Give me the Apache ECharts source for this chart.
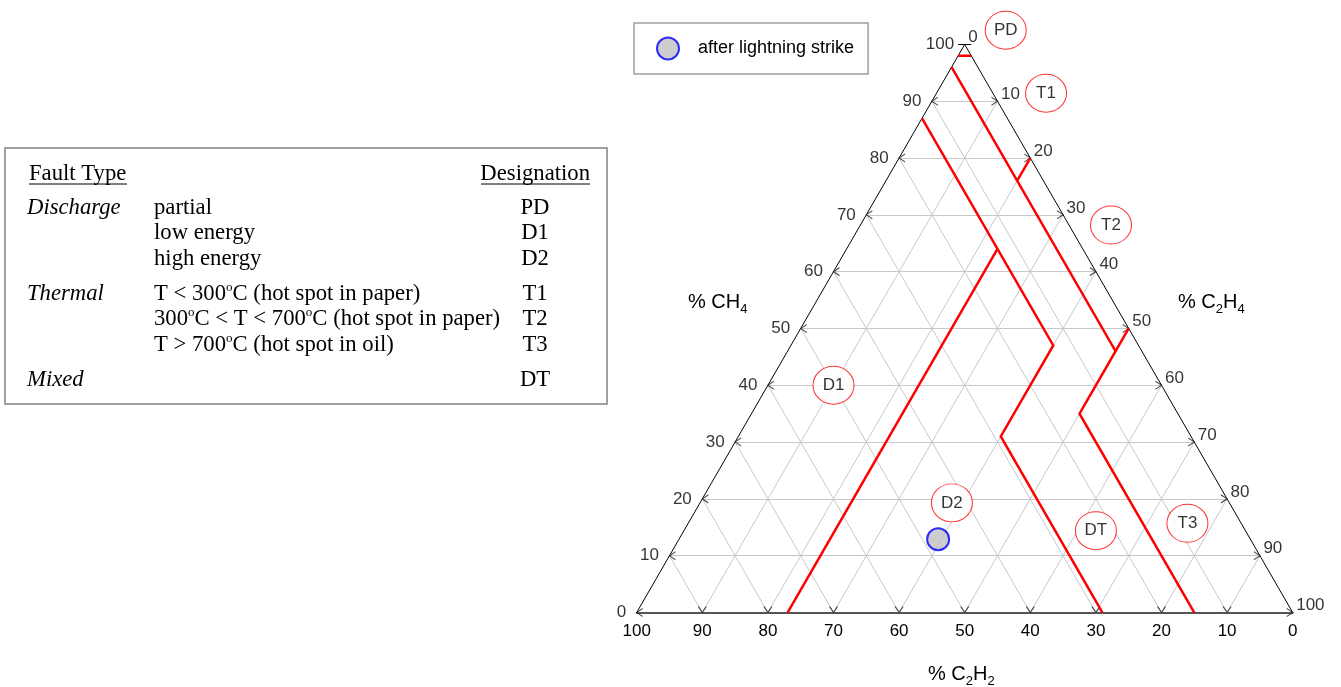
<!DOCTYPE html>
<html>
<head>
<meta charset="utf-8">
<title>Duval triangle</title>
<script src="https://cdn.jsdelivr.net/npm/echarts@6/dist/echarts.min.js"></script>
<style>
  html, body { margin: 0; padding: 0; background: #fff; }
  #chart { width: 1341px; height: 687px; }
</style>
</head>
<body>
<div id="chart"></div>
<script>
// all gas points are [CH4, C2H4, C2H2] in %
const TICKS = [0, 10, 20, 30, 40, 50, 60, 70, 80, 90, 100];

// zone boundaries (red)
const PD_LINE    = [[98, 0, 2], [98, 2, 0]];
const T_LINE     = [[96, 0, 4], [46, 50, 4], [35, 50, 15], [0, 85, 15]];
const T1_T2_LINE = [[76, 20, 4], [80, 20, 0]];
const T2_T3_LINE = [[46, 50, 4], [50, 50, 0]];
const D_LINE     = [[87, 0, 13], [47, 40, 13], [31, 40, 29], [0, 71, 29]];
const D1_D2_LINE = [[64, 23, 13], [0, 23, 77]];

// zone tags
const ZONE_NAMES = ['PD', 'T1', 'T2', 'D1', 'D2', 'DT', 'T3'];
const ZONE_POS = [[102.5, 5, -7.5], [91.4, 16.7, -8.1], [68.2, 38.2, -6.4], [40, 10, 50],
                  [19.3, 38.4, 42.3], [14.4, 62.8, 22.8], [15.7, 76.1, 8.2]];

// measured sample
const SAMPLE_NAME = 'after lightning strike';
const SAMPLE = [12.9, 39.5, 47.6];

// fault table
const FAULT_GROUPS = ['Discharge', '', '', 'Thermal', '', '', 'Mixed'];
const FAULT_DESCS = ['partial', 'low energy', 'high energy',
  'T < 300{s|o}C (hot spot in paper)',
  '300{s|o}C < T < 700{s|o}C (hot spot in paper)',
  'T > 700{s|o}C (hot spot in oil)', ''];
const FAULT_CODES = ['PD', 'D1', 'D2', 'T1', 'T2', 'T3', 'DT'];

const SANS = "'Liberation Sans', Arial, sans-serif";
const SERIF = "'Liberation Serif', 'Times New Roman', serif";
const SQ3 = Math.sqrt(3);

// ternary -> cartesian (x along base, y height), both in % units
function toXY(p) { return [p[1] + p[0] / 2, p[0] * SQ3 / 2]; }
const seg = pts => ({ coords: pts.map(toXY) });

const inner = TICKS.slice(1, -1);
const gridSegs = [];
inner.forEach(k => {
  gridSegs.push(seg([[k, 0, 100 - k], [k, 100 - k, 0]]));   // CH4 const
  gridSegs.push(seg([[0, k, 100 - k], [100 - k, k, 0]]));   // C2H4 const
  gridSegs.push(seg([[0, 100 - k, k], [100 - k, 0, k]]));   // C2H2 const
});

const chevronStyle = { color: 'transparent', borderColor: '#222', borderWidth: 1 };
const chevron = (name, data, path, size, offset) => ({
  name, type: 'scatter', data, symbol: path, symbolSize: size, symbolOffset: offset,
  symbolKeepAspect: false, itemStyle: chevronStyle, silent: true, clip: false, z: 3
});

const ellipse = 'path://M0,50C0,22.4 22.4,0 50,0C77.6,0 100,22.4 100,50C100,77.6 77.6,100 50,100C22.4,100 0,77.6 0,50Z';

// table graphics
const ROW_Y = [208, 233.5, 259, 294, 319.5, 345, 380];
const tableText = (x, y, text, opt) => ({
  type: 'text', x, y, silent: true,
  style: Object.assign({
    text, fontFamily: SERIF, fontSize: 22.7, fill: '#000', lineHeight: 26,
    align: 'left', verticalAlign: 'middle',
    rich: { s: { fontFamily: SERIF, fontSize: 13, lineHeight: 12, verticalAlign: 'top', fill: '#000' } }
  }, opt || {})
});
const tableGraphics = [
  { type: 'rect', silent: true, shape: { x: 5, y: 148, width: 602, height: 256 },
    style: { fill: 'none', stroke: '#a0a0a0', lineWidth: 2 } },
  tableText(29, 174, 'Fault Type'),
  tableText(590, 174, 'Designation', { align: 'right' }),
  { type: 'line', silent: true, shape: { x1: 29, y1: 184, x2: 127, y2: 184 }, style: { stroke: '#000', lineWidth: 1 } },
  { type: 'line', silent: true, shape: { x1: 481, y1: 184, x2: 590, y2: 184 }, style: { stroke: '#000', lineWidth: 1 } }
];
ROW_Y.forEach((y, i) => {
  if (FAULT_GROUPS[i]) tableGraphics.push(tableText(27, y, FAULT_GROUPS[i], { fontStyle: 'italic' }));
  if (FAULT_DESCS[i]) tableGraphics.push(tableText(154, y, FAULT_DESCS[i]));
  tableGraphics.push(tableText(535, y, FAULT_CODES[i], { align: 'center' }));
});

const axisTitle = (x, y, text) => ({
  type: 'text', x, y, silent: true,
  style: {
    text, fontFamily: SANS, fontSize: 20, fill: '#000', lineHeight: 28,
    align: 'left', verticalAlign: 'middle',
    rich: { s: { fontFamily: SANS, fontSize: 13, lineHeight: 12, verticalAlign: 'bottom', fill: '#000' } }
  }
});

const el = document.getElementById('chart');
const chart = echarts.init(el, null, { renderer: 'canvas' });

const option = {
  animation: false,
  textStyle: { fontFamily: SANS },
  grid: { left: 636.7, top: 44.4, width: 656, height: 568.1 },
  xAxis: {
    type: 'value', min: 0, max: 100, interval: 10,
    axisLine: { show: true, lineStyle: { color: '#555', width: 2 } },
    axisTick: { show: false },
    splitLine: { show: false },
    axisLabel: { fontSize: 17, color: '#000', margin: 10, fontFamily: SANS,
      formatter: v => String(100 - v) }
  },
  yAxis: { type: 'value', min: 0, max: 100 * SQ3 / 2, show: false },
  legend: {
    data: [SAMPLE_NAME], left: 634, top: 23,
    padding: [13.5, 14, 13.5, 22], itemWidth: 50, itemHeight: 22,
    borderColor: '#a0a0a0', borderWidth: 1.5,
    itemStyle: { color: '#c0c0c0', borderColor: '#0000ff', borderWidth: 2 },
    textStyle: { fontSize: 18, color: '#000', fontFamily: SANS }
  },
  graphic: tableGraphics.concat([
    axisTitle(688, 302, '% CH{s|4}'),
    axisTitle(1178, 302, '% C{s|2}H{s|4}'),
    axisTitle(928, 674, '% C{s|2}H{s|2}')
  ]),
  series: [
    { name: 'grid', type: 'lines', coordinateSystem: 'cartesian2d', data: gridSegs,
      lineStyle: { color: '#c8c8c8', width: 1, opacity: 1 }, silent: true, z: 1 },
    { name: 'sides', type: 'lines', coordinateSystem: 'cartesian2d',
      data: [seg([[0, 0, 100], [100, 0, 0]]), seg([[100, 0, 0], [0, 100, 0]]),
             seg([[100, -1, 1], [100, 1, -1]])],
      lineStyle: { color: '#000', width: 1, opacity: 1 }, silent: true, z: 2 },
    { name: 'zones', type: 'lines', coordinateSystem: 'cartesian2d', polyline: true,
      data: [PD_LINE, T_LINE, T1_T2_LINE, T2_T3_LINE, D_LINE, D1_D2_LINE].map(seg),
      lineStyle: { color: '#ff0000', width: 2.5, opacity: 1 }, silent: true, z: 4 },
    chevron('tick-left', TICKS.slice(0, -1).map(k => toXY([k, 0, 100 - k])),
      'path://M6,0L0,4L6,8', [6, 8], [3, 0]),
    chevron('tick-right', TICKS.slice(0, -1).map(k => toXY([k, 100 - k, 0])),
      'path://M0,0L6,4L0,8', [6, 8], [-3, 0]),
    chevron('tick-bottom', inner.map(k => toXY([0, 100 - k, k])),
      'path://M0,0L4,6L8,0', [8, 6], [0, -3]),
    { name: 'CH4 labels', type: 'scatter', silent: true, clip: false,
      data: TICKS.map(k => ({ value: toXY([k, 0, 100 - k]), name: String(k) })),
      symbolSize: 1, itemStyle: { color: 'transparent' },
      label: { show: true, position: 'left', distance: 10, formatter: '{b}', fontSize: 17, color: '#000', fontFamily: SANS } },
    { name: 'C2H4 labels', type: 'scatter', silent: true, clip: false,
      data: TICKS.map(k => ({ value: toXY([100 - k, k, 0]), name: String(k) })),
      symbolSize: 1, itemStyle: { color: 'transparent' },
      label: { show: true, position: 'right', distance: 3, offset: [0, -7], formatter: '{b}', fontSize: 17, color: '#000', fontFamily: SANS } },
    { name: 'zone tags', type: 'scatter', silent: true, clip: false, z: 5,
      data: ZONE_NAMES.map((n, i) => ({ name: n, value: toXY(ZONE_POS[i]) })),
      symbol: ellipse, symbolSize: [41, 38], symbolKeepAspect: false,
      itemStyle: { color: '#fff', borderColor: '#ff0000', borderWidth: 1 },
      label: { show: true, position: 'inside', formatter: '{b}', fontSize: 17, color: '#000', fontFamily: SANS } },
    { name: SAMPLE_NAME, type: 'scatter', clip: false, z: 6,
      data: [toXY(SAMPLE)], symbol: 'circle', symbolSize: 22,
      itemStyle: { color: '#c0c0c0', borderColor: '#0000ff', borderWidth: 2 } }
  ]
};

chart.setOption(option);
window.addEventListener('resize', () => chart.resize(), { passive: true });
</script>
</body>
</html>
